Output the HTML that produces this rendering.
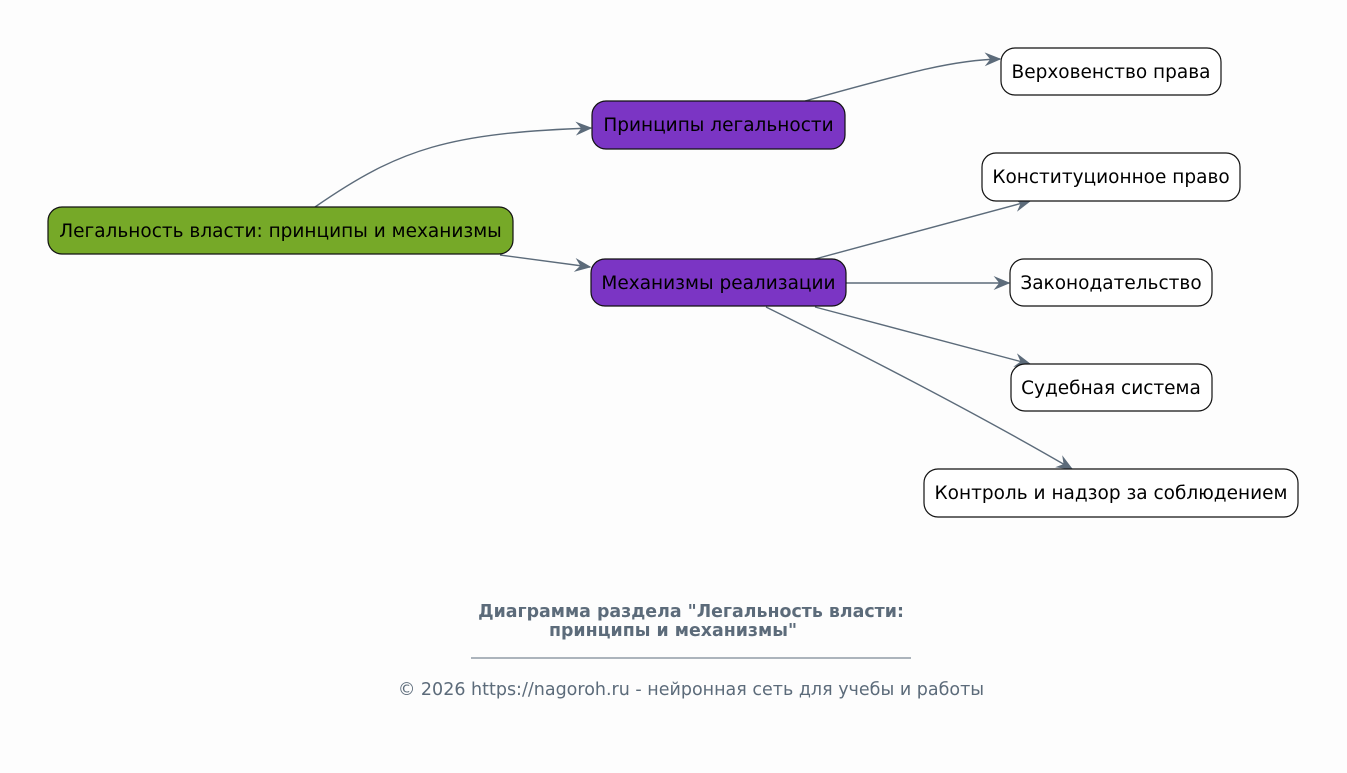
<!DOCTYPE html>
<html><head><meta charset="utf-8"><style>
html,body{margin:0;padding:0;background:#fdfdfd;}
svg{display:block;font-family:"DejaVu Sans","Liberation Sans",sans-serif;}
</style></head><body>
<svg width="1347" height="773" viewBox="0 0 1347 773" xmlns="http://www.w3.org/2000/svg">
<defs>
<marker id="a" viewBox="0 0 12 10" refX="11" refY="5" markerWidth="17" markerHeight="14" markerUnits="userSpaceOnUse" orient="auto">
<path d="M0,0 L12,5 L0,10 L4,5 z" fill="#5c6b7a"/>
</marker>
</defs>
<rect width="1347" height="773" fill="#fdfdfd"/>
<g fill="none" stroke="#5c6b7a" stroke-width="1.4">
<path d="M315,207 C400,148 450,133 591,128" marker-end="url(#a)"/>
<path d="M500,255 L590,267" marker-end="url(#a)"/>
<path d="M805,101 C900,75 950,60 1000,59" marker-end="url(#a)"/>
<path d="M815,259 L1030,201" marker-end="url(#a)"/>
<path d="M846,283 L1009,283" marker-end="url(#a)"/>
<path d="M815,307 L1030,364" marker-end="url(#a)"/>
<path d="M766,307 Q950,398 1072,469" marker-end="url(#a)"/>
</g>
<g stroke="#111" stroke-width="1.2">
<rect x="48" y="207" width="465" height="47" rx="14" fill="#76a928"/>
<rect x="592" y="101" width="253" height="48" rx="14" fill="#7b35c4"/>
<rect x="591" y="259" width="255" height="47" rx="14" fill="#7b35c4"/>
<rect x="1001" y="48" width="220" height="47" rx="14" fill="#fff"/>
<rect x="982" y="153" width="258" height="48" rx="14" fill="#fff"/>
<rect x="1010" y="259" width="202" height="47" rx="14" fill="#fff"/>
<rect x="1011" y="364" width="201" height="47" rx="14" fill="#fff"/>
<rect x="924" y="469" width="374" height="48" rx="14" fill="#fff"/>
</g>
<g font-size="18.5" fill="#000" text-anchor="middle">
<text x="280.5" y="237">Легальность власти: принципы и механизмы</text>
<text x="718.5" y="131">Принципы легальности</text>
<text x="718.5" y="289">Механизмы реализации</text>
<text x="1111" y="78">Верховенство права</text>
<text x="1111" y="183">Конституционное право</text>
<text x="1111" y="289">Законодательство</text>
<text x="1111" y="394">Судебная система</text>
<text x="1111" y="499">Контроль и надзор за соблюдением</text>
</g>
<g fill="#5c6b7a" text-anchor="middle">
<text x="691" y="617" font-size="17.4" font-weight="bold">Диаграмма раздела "Легальность власти:</text>
<text x="673" y="636" font-size="17.4" font-weight="bold">принципы и механизмы"</text>
<line x1="471" y1="658" x2="911" y2="658" stroke="#5c6b7a" stroke-width="1"/>
<text x="691" y="695" font-size="17.5">© 2026 https://nagoroh.ru - нейронная сеть для учебы и работы</text>
</g>
</svg>
</body></html>
